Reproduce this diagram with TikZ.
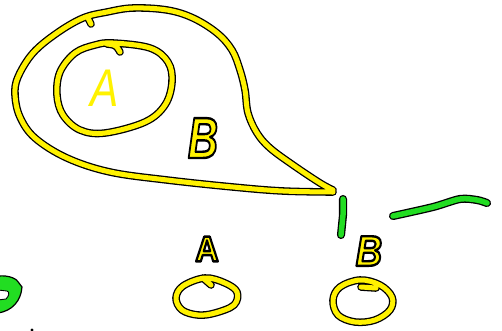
\documentclass[tikz,border=0pt]{standalone}
\usepackage{fontspec}
\setmainfont{Liberation Sans}
\definecolor{paper}{HTML}{FFFFFF}
\definecolor{ink}{HTML}{000000}
\definecolor{marker}{HTML}{FFF200}
\definecolor{felt}{HTML}{22DD22}
\tikzset{
  yellowpen/.style={draw=ink,line width=1.3pt,double=marker,double distance=5pt,
                    line cap=round,line join=round},
  greenpen/.style={draw=ink,line width=1.3pt,double=felt,double distance=5.5pt,
                   line cap=round,line join=round},
  letter/.style={inner sep=0pt,outer sep=0pt}
}
% yellow letter with a black rim (fill, then stroke)
\newcommand{\penletter}[1]{%
  \textcolor{marker}{\special{pdf:literal direct 2 Tr 2.4 w 0 G 1 j}#1%
  \special{pdf:literal direct 0 Tr}}}

\begin{document}
\begin{tikzpicture}[x=1pt,y=-1pt]
  \useasboundingbox (0,0) rectangle (502,330);
  \fill[paper] (0,0) rectangle (502,330);

  % ======================== BIG TEARDROP ========================
  \draw[yellowpen] plot[smooth,tension=0.6] coordinates {
      (333,190) (320,183) (293,165) (270,148) (257,133) (248,113)
      (245,90) (240,70) (232,50) (217,33) (193,18) (167,10) (133,8)
      (107,12) (83,18) (57,33) (33,53) (18,77) (15,95) (20,117)
      (35,138) (67,158) (110,172) (167,180) (233,187) (283,191) (333,192)}
    (88,18) -- (91,24);

  % inner circle with its little hook
  \draw[yellowpen] plot[smooth cycle,tension=0.6] coordinates {
      (113,43) (150,48) (168,62) (172,82) (165,105) (145,122)
      (105,133) (80,130) (63,115) (57,95) (60,72) (75,53) (95,45)}
    (107,44) .. controls (116,45) .. (120,52);

  \node[letter,text=marker,font=\itshape\fontsize{53}{53}\selectfont] (innerA)
    at (105,88) {\scalebox{0.8}[1]{A}};
  \node[letter,font=\itshape\bfseries\fontsize{58}{58}\selectfont] (innerB)
    at (203,138) {\scalebox{0.72}[1]{\penletter{B}}};

  % ======================== GREEN STROKES ========================
  \draw[greenpen] (343,199) -- (343,215) -- (341,235);
  \draw[greenpen] plot[smooth,tension=0.5] coordinates {
      (393,216) (433,207) (460,199) (477,200) (487,203)};

  % green blob at the left edge
  \fill[felt,draw=ink,line width=1.2pt]
    (-2,276) .. controls (10,275) and (17,279) .. (19,283)
    -- (22,287) .. controls (21,301) and (12,311) .. (-2,313) -- cycle;
  \fill[paper,draw=ink,line width=.9pt]
    (-2,290) -- (7,291) .. controls (10,292) and (9,296) .. (6,299)
    -- (-2,300) -- cycle;

  % ======================== LOWER PAIR ========================
  \node[letter,font=\bfseries\fontsize{36}{36}\selectfont] (lowA)
    at (207,249) {\scalebox{0.9}[1]{\penletter{A}}};
  \draw[yellowpen] plot[smooth cycle,tension=0.6] coordinates {
      (205,278) (225,283) (237,292) (234,305) (215,313) (198,315)
      (182,310) (176,298) (183,286)}
    (203,278) -- (211,285);

  \node[letter,font=\itshape\bfseries\fontsize{43}{43}\selectfont] (lowB)
    at (369,251) {\scalebox{0.85}[1]{\penletter{B}}};
  \draw[yellowpen] plot[smooth cycle,tension=0.6] coordinates {
      (360,280) (380,285) (392,297) (390,310) (375,320) (355,322)
      (338,315) (333,300) (340,287)}
    (361,287) -- (376,288);

  % stray mark at the bottom edge
  \fill[ink] (32,330) circle (1.6);
\end{tikzpicture}
\end{document}
